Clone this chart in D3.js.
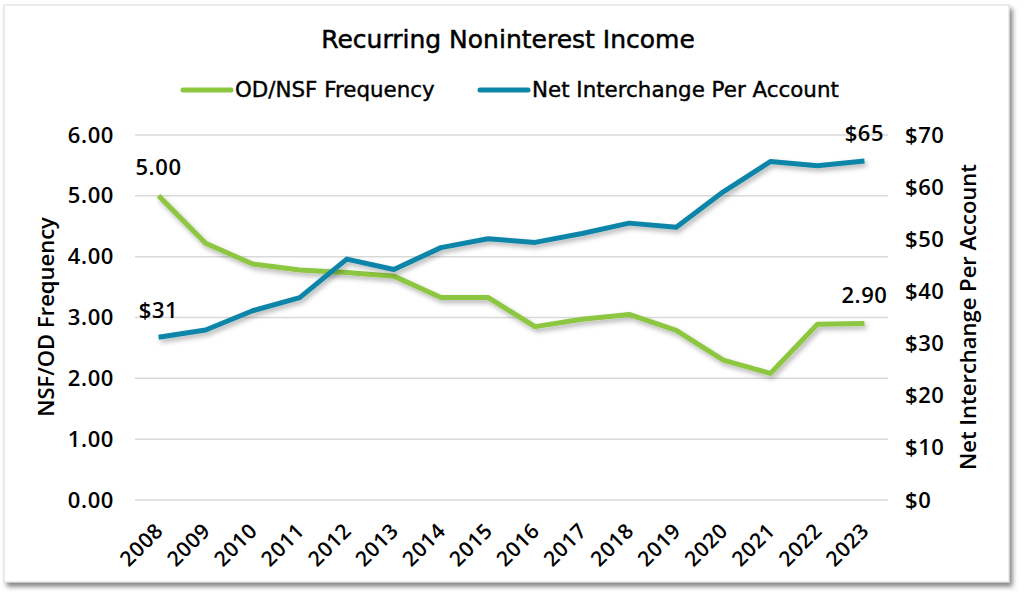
<!DOCTYPE html>
<html><head><meta charset="utf-8">
<script src="https://cdn.jsdelivr.net/npm/d3@7"></script>
<style>
html,body{margin:0;padding:0;background:#fff;}
svg{display:block;}
</style></head>
<body>
<svg id="chart" width="1024" height="600"></svg>
<script>
const years = ["2008","2009","2010","2011","2012","2013","2014","2015","2016","2017","2018","2019","2020","2021","2022","2023"];
const odNsfFrequency = [5.00,4.22,3.88,3.78,3.74,3.68,3.33,3.33,2.85,2.97,3.05,2.79,2.30,2.08,2.89,2.90];
const netInterchange = [31.2,32.6,36.3,38.8,46.2,44.2,48.4,50.1,49.4,51.1,53.1,52.3,59.1,64.9,64.1,65.0];
const leftTicks = [0,1,2,3,4,5,6];
const rightTicks = [0,10,20,30,40,50,60,70];
const title = "Recurring Noninterest Income";
const seriesNames = ["OD/NSF Frequency","Net Interchange Per Account"];
const leftAxisTitle = "NSF/OD Frequency";
const rightAxisTitle = "Net Interchange Per Account";

const green = "#8dc63f", blue = "#0b85a8";
const svg = d3.select("#chart");
const defs = svg.append("defs");
const fs = defs.append("filter").attr("id","shadow").attr("x","-10%").attr("y","-10%").attr("width","130%").attr("height","140%");
fs.append("feDropShadow").attr("dx",2).attr("dy",3).attr("stdDeviation",2.5).attr("flood-color","#000").attr("flood-opacity",0.3);
const fb = defs.append("filter").attr("id","boxshadow").attr("x","-5%").attr("y","-5%").attr("width","110%").attr("height","110%");
fb.append("feDropShadow").attr("dx",3).attr("dy",4).attr("stdDeviation",2.5).attr("flood-color","#000").attr("flood-opacity",0.5);

// frame
svg.append("rect").attr("x",4).attr("y",5).attr("width",1005).attr("height",577)
  .attr("fill","#fff").attr("stroke","#d9d9d9").attr("stroke-width",1).attr("filter","url(#boxshadow)");

const pLeft = 135, pRight = 888, pTop = 135, pBottom = 500;
const x = d3.scaleBand().domain(years).range([pLeft,pRight]);
const yL = d3.scaleLinear().domain([0,6]).range([pBottom,pTop]);
const yR = d3.scaleLinear().domain([0,70]).range([pBottom,pTop]);
const cx = d => x(d) + x.bandwidth()/2;

// gridlines
svg.append("g").selectAll("line").data(leftTicks).join("line")
  .attr("x1",pLeft).attr("x2",pRight).attr("y1",d=>yL(d)).attr("y2",d=>yL(d))
  .attr("stroke","#d9d9d9").attr("stroke-width",1.5);

const tickFont = "'Open Sans', sans-serif";
const styleTick = sel => sel.attr("font-family",tickFont).attr("font-weight",600).attr("font-size","22px")
  .attr("letter-spacing","0.6px").attr("fill","#000");
// left axis
const gL = svg.append("g").attr("transform",`translate(${pLeft},0)`)
  .call(d3.axisLeft(yL).tickValues(leftTicks).tickFormat(d3.format(".2f")).tickSize(0).tickPadding(21));
gL.select(".domain").remove();
styleTick(gL.selectAll("text"));

// right axis
const gR = svg.append("g").attr("transform",`translate(${pRight},0)`)
  .call(d3.axisRight(yR).tickValues(rightTicks).tickFormat(d=>"$"+d).tickSize(0).tickPadding(17));
gR.select(".domain").remove();
styleTick(gR.selectAll("text"));

// x axis
const gX = svg.append("g").attr("transform",`translate(0,${pBottom})`)
  .call(d3.axisBottom(x).tickSize(0).tickPadding(0));
gX.select(".domain").remove();
styleTick(gX.selectAll("text")).attr("font-size","21px")
  .attr("text-anchor","end").attr("dy",0).attr("y",0)
  .attr("transform","translate(6,32) rotate(-45)");

// lines
const lineL = d3.line().x((d,i)=>cx(years[i])).y(d=>yL(d));
const lineR = d3.line().x((d,i)=>cx(years[i])).y(d=>yR(d));
svg.append("path").datum(odNsfFrequency).attr("d",lineL).attr("fill","none")
  .attr("stroke",green).attr("stroke-width",5).attr("stroke-linejoin","round").attr("filter","url(#shadow)");
svg.append("path").datum(netInterchange).attr("d",lineR).attr("fill","none")
  .attr("stroke",blue).attr("stroke-width",5).attr("stroke-linejoin","round").attr("filter","url(#shadow)");

// data labels
const lab = (t,xx,yy) => styleTick(svg.append("text").attr("x",xx).attr("y",yy).attr("text-anchor","middle")).text(t);
const n = years.length-1;
lab(d3.format(".2f")(odNsfFrequency[0]), cx(years[0]), yL(odNsfFrequency[0])-21);
lab("$"+Math.round(netInterchange[0]), cx(years[0]), yR(netInterchange[0])-19);
lab("$"+Math.round(netInterchange[n]), cx(years[n]), yR(netInterchange[n])-20);
lab(d3.format(".2f")(odNsfFrequency[n]), cx(years[n]), yL(odNsfFrequency[n])-21);

// title
const titleFont = "'DejaVu Sans', sans-serif";
svg.append("text").attr("x",508).attr("y",48).attr("text-anchor","middle")
  .attr("font-family",titleFont).attr("font-size","25px").attr("fill","#000")
  .attr("stroke","#000").attr("stroke-width",0.5).text(title);

// legend
const leg = [{n:seriesNames[0],c:green,x:183},{n:seriesNames[1],c:blue,x:480}];
leg.forEach(l=>{
  svg.append("line").attr("x1",l.x).attr("x2",l.x+48).attr("y1",90).attr("y2",90)
    .attr("stroke",l.c).attr("stroke-width",5).attr("stroke-linecap","round");
  svg.append("text").attr("x",l.x+52).attr("y",97).attr("font-family",titleFont).attr("font-size","21.4px")
    .attr("fill","#000").attr("stroke","#000").attr("stroke-width",0.4).text(l.n);
});

// axis titles
svg.append("text").attr("transform","translate(54,317) rotate(-90)").attr("text-anchor","middle")
  .attr("font-family",tickFont).attr("font-weight",600).attr("font-size","22px").attr("fill","#000").text(leftAxisTitle);
svg.append("text").attr("transform","translate(976,317) rotate(-90)").attr("text-anchor","middle")
  .attr("font-family",tickFont).attr("font-weight",600).attr("font-size","22px").attr("fill","#000").text(rightAxisTitle);
</script>
</body></html>
